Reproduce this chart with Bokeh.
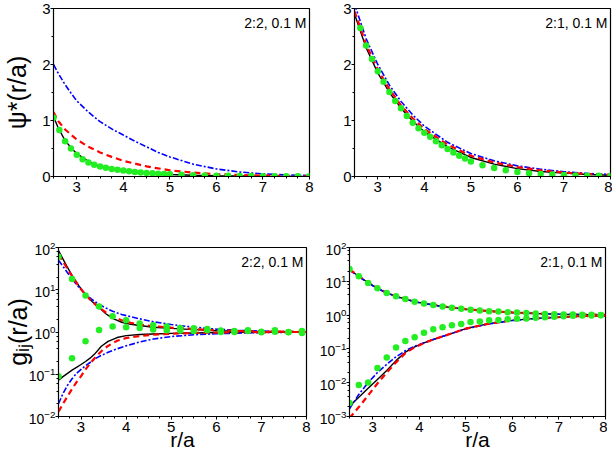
from bokeh.plotting import figure
from bokeh.models import Range1d, SingleIntervalTicker, LogTicker, Label
from bokeh.layouts import column, row
from bokeh.embed import file_html
from bokeh.resources import INLINE

FONT = "Liberation Sans"

# ---------------- data: top-left, psi*(r/a), 2:2 0.1 M ----------------
tl_x_black = [2.5, 2.6, 2.75, 2.9, 3.0, 3.25, 3.5, 3.75, 4.0, 4.5, 5.0, 5.5, 6.0, 6.5, 7.0, 7.5, 8.0]
tl_y_black = [1.07, 0.87, 0.64, 0.49, 0.41, 0.27, 0.18, 0.13, 0.1, 0.06, 0.037, 0.023, 0.014, 0.009, 0.005, 0.003, 0.002]
tl_x_red = [2.5, 2.6, 2.75, 2.9, 3.0, 3.25, 3.5, 3.75, 4.0, 4.5, 5.0, 5.5, 6.0, 6.5, 7.0, 7.5, 8.0]
tl_y_red = [1.15, 0.99, 0.84, 0.73, 0.66, 0.53, 0.43, 0.35, 0.28, 0.18, 0.11, 0.07, 0.042, 0.026, 0.016, 0.01, 0.006]
tl_x_blue = [2.5, 2.625, 2.75, 2.875, 3.0, 3.25, 3.5, 3.75, 4.0, 4.25, 4.5, 4.75, 5.0, 5.5, 6.0, 6.5, 7.0, 7.5, 8.0]
tl_y_blue = [2.0, 1.81, 1.64, 1.49, 1.35, 1.15, 0.98, 0.85, 0.74, 0.63, 0.53, 0.43, 0.35, 0.22, 0.135, 0.08, 0.047, 0.028, 0.017]
tl_x_green = [2.5, 2.625, 2.75, 2.875, 3.0, 3.125, 3.25, 3.375, 3.5, 3.625, 3.75, 3.875, 4.0,
              4.125, 4.25, 4.375, 4.5, 4.625, 4.75, 4.875, 5.0, 5.25, 5.5, 5.75, 6.0, 6.25,
              6.5, 6.75, 7.0, 7.25, 7.5, 7.75, 8.0]
tl_y_green = [1.05, 0.83, 0.63, 0.5, 0.39, 0.31, 0.25, 0.21, 0.18, 0.155, 0.135, 0.12, 0.105,
              0.093, 0.082, 0.072, 0.063, 0.056, 0.05, 0.044, 0.039, 0.031, 0.024, 0.019, 0.015,
              0.012, 0.01, 0.008, 0.006, 0.005, 0.004, 0.003, 0.003]

# ---------------- data: top-right, psi*(r/a), 2:1 0.1 M ----------------
tr_x_lines = [2.5, 2.75, 3.0, 3.25, 3.5, 3.75, 4.0, 4.5, 5.0, 5.5, 6.0, 6.5, 7.0, 7.5, 8.0]
tr_y_black = [2.9, 2.3, 1.85, 1.5, 1.22, 0.99, 0.8, 0.53, 0.34, 0.22, 0.14, 0.09, 0.06, 0.035, 0.022]
tr_y_red = [2.95, 2.36, 1.91, 1.56, 1.27, 1.04, 0.85, 0.57, 0.37, 0.25, 0.17, 0.11, 0.07, 0.045, 0.03]
tr_y_blue = [3.08, 2.46, 2.0, 1.63, 1.34, 1.1, 0.9, 0.61, 0.41, 0.28, 0.19, 0.13, 0.085, 0.055, 0.037]
tr_x_green = [2.625, 2.75, 2.875, 3.0, 3.125, 3.25, 3.375, 3.5, 3.625, 3.75, 3.875, 4.0,
              4.125, 4.25, 4.375, 4.5, 4.625, 4.75, 4.875, 5.0, 5.25, 5.5, 5.75, 6.0, 6.25,
              6.5, 6.75, 7.0, 7.25, 7.5, 7.75, 8.0]
tr_y_green = [2.65, 2.34, 2.1, 1.88, 1.69, 1.51, 1.35, 1.22, 1.08, 0.96, 0.86, 0.78, 0.71,
              0.63, 0.56, 0.49, 0.43, 0.37, 0.32, 0.27, 0.2, 0.15, 0.11, 0.08, 0.06, 0.045,
              0.035, 0.027, 0.02, 0.015, 0.012, 0.01]

# ---------------- data: bottom-left, g_ij(r/a), 2:2 0.1 M ----------------
bl_x_up = [2.5, 2.65, 2.8, 2.95, 3.1, 3.25, 3.4, 3.55, 3.7, 3.9, 4.1, 4.3, 4.6, 5.0, 5.5, 6.0, 6.5, 7.0, 7.5, 8.0]
bl_black_up = [85, 42, 22, 12.5, 7.5, 5.2, 3.8, 2.7, 2.1, 1.7, 1.52, 1.42, 1.3, 1.22, 1.14, 1.08, 1.04, 1.02, 1.01, 1.0]
bl_red_up = [68, 38, 21, 12, 7.6, 5.2, 3.8, 2.9, 2.3, 1.9, 1.65, 1.5, 1.38, 1.27, 1.17, 1.1, 1.06, 1.03, 1.02, 1.01]
bl_blue_up = [50, 30, 18, 11.5, 7.8, 5.8, 4.5, 3.7, 3.1, 2.6, 2.3, 2.05, 1.75, 1.5, 1.3, 1.17, 1.09, 1.05, 1.02, 1.01]
bl_x_low = [2.5, 2.6, 2.7, 2.8, 2.9, 3.0, 3.1, 3.2, 3.3, 3.45, 3.6, 3.8, 4.0, 4.3, 4.6, 5.0, 5.5, 6.0, 6.5, 7.0, 7.5, 8.0]
bl_black_low = [0.072, 0.088, 0.105, 0.125, 0.145, 0.17, 0.2, 0.24, 0.3, 0.46, 0.6, 0.74, 0.82, 0.87, 0.9, 0.93, 0.95, 0.97, 0.98, 0.99, 0.995, 1.0]
bl_red_low = [0.013, 0.02, 0.03, 0.045, 0.065, 0.09, 0.13, 0.18, 0.24, 0.35, 0.47, 0.62, 0.72, 0.8, 0.86, 0.91, 0.95, 0.97, 0.985, 0.99, 1.0, 1.0]
bl_blue_low = [0.02, 0.035, 0.055, 0.078, 0.105, 0.13, 0.16, 0.19, 0.23, 0.28, 0.33, 0.4, 0.47, 0.58, 0.68, 0.78, 0.86, 0.91, 0.94, 0.97, 0.98, 0.99]
bl_x_green = [2.5, 2.8, 3.1, 3.4, 3.7, 4.0, 4.3, 4.6, 4.9, 5.2, 5.5, 5.8, 6.1, 6.4, 6.7, 7.0, 7.3, 7.6, 7.9]
bl_green_up = [60, 18, 7.3, 4.0, 2.35, 1.9, 1.6, 1.45, 1.35, 1.25, 1.22, 1.18, 1.08, 1.05, 1.1, 1.02, 1.1, 1.0, 1.05]
bl_green_low = [0.09, 0.24, 0.6, 1.12, 1.35, 1.3, 1.25, 1.15, 1.1, 1.08, 1.05, 1.1, 1.0, 1.0, 1.05, 0.98, 1.02, 0.98, 0.95]

# ---------------- data: bottom-right, g_ij(r/a), 2:1 0.1 M ----------------
br_x_up = [2.5, 2.75, 3.0, 3.25, 3.5, 3.75, 4.0, 4.5, 5.0, 5.5, 6.0, 6.5, 7.0, 7.5, 8.0]
br_black_up = [22, 12.5, 7.5, 4.9, 3.6, 2.85, 2.35, 1.8, 1.5, 1.31, 1.2, 1.12, 1.07, 1.04, 1.02]
br_red_up = [22.5, 12.8, 7.6, 5.0, 3.65, 2.88, 2.37, 1.81, 1.5, 1.31, 1.2, 1.12, 1.07, 1.04, 1.02]
br_blue_up = [21.5, 12.3, 7.4, 4.85, 3.55, 2.82, 2.32, 1.78, 1.48, 1.3, 1.18, 1.11, 1.06, 1.03, 1.02]
br_x_low = [2.5, 2.7, 2.9, 3.1, 3.3, 3.5, 3.7, 3.9, 4.1, 4.3, 4.6, 5.0, 5.5, 6.0, 6.5, 7.0, 7.5, 8.0]
br_black_low = [0.002, 0.0037, 0.0068, 0.0125, 0.023, 0.045, 0.08, 0.115, 0.15, 0.19, 0.26, 0.4, 0.56, 0.7, 0.8, 0.87, 0.93, 0.96]
br_red_low = [0.0009, 0.0019, 0.0042, 0.0095, 0.02, 0.04, 0.075, 0.112, 0.148, 0.19, 0.26, 0.4, 0.56, 0.7, 0.8, 0.87, 0.93, 0.96]
br_blue_low = [0.0017, 0.0045, 0.01, 0.02, 0.035, 0.058, 0.088, 0.12, 0.152, 0.19, 0.26, 0.39, 0.55, 0.69, 0.79, 0.87, 0.93, 0.96]
br_x_green = [2.5, 2.7, 2.9, 3.1, 3.3, 3.5, 3.7, 3.9, 4.1, 4.3, 4.5, 4.7, 4.9, 5.1, 5.3, 5.5,
              5.7, 5.9, 6.1, 6.3, 6.5, 6.7, 6.9, 7.1, 7.3, 7.5, 7.7, 7.9]
br_green_up = [23, 14, 8.9, 6.2, 4.5, 3.6, 3.0, 2.5, 2.2, 2.0, 1.8, 1.64, 1.53, 1.43, 1.37, 1.31,
               1.27, 1.22, 1.19, 1.15, 1.12, 1.08, 1.06, 1.05, 1.04, 1.03, 1.02, 1.01]
br_green_low = [0.0025, 0.0085, 0.0102, 0.027, 0.056, 0.11, 0.17, 0.22, 0.3, 0.38, 0.44, 0.5,
                0.55, 0.62, 0.65, 0.7, 0.72, 0.75, 0.78, 0.8, 0.83, 0.87, 0.9, 0.93, 0.95, 0.97,
                0.98, 0.99]

TAG_22 = "2:2, 0.1 M"
TAG_21 = "2:1, 0.1 M"

BLACK = dict(line_color="black", line_width=1.4)
RED = dict(line_color="#FF0000", line_width=2.2, line_dash="6 4")
BLUE = dict(line_color="#0000FF", line_width=1.6, line_dash="6 2 2 2")
GREEN = dict(size=6.5, fill_color="#22EE22", line_color=None)


def make_panel(w, h, bl, br, bt, bb, ylog, ylo, yhi, ylabel, ylabel_standoff, xlabel, tag):
    p = figure(width=w, height=h, x_range=Range1d(2.5, 8), y_range=Range1d(ylo, yhi),
               y_axis_type="log" if ylog else "linear", output_backend="svg",
               toolbar_location=None, min_border_left=bl, min_border_right=br,
               min_border_top=bt, min_border_bottom=bb)
    p.grid.visible = False
    p.outline_line_color = "black"
    p.outline_line_width = 1.2
    xt = SingleIntervalTicker(interval=1, num_minor_ticks=4)
    yt = LogTicker() if ylog else SingleIntervalTicker(interval=1, num_minor_ticks=2)
    xa = p.below[0]
    ya = p.left[0]
    xa.ticker = xt
    ya.ticker = yt
    for ax in (xa, ya):
        ax.major_tick_out = 3
        ax.major_tick_in = 0
        ax.minor_tick_out = 2
        ax.minor_tick_in = 0
        ax.major_label_text_font = FONT
        ax.major_label_text_color = "black"
        ax.axis_line_color = "black"
        ax.major_tick_line_color = "black"
        ax.minor_tick_line_color = "black"
        ax.axis_label_text_font = FONT
        ax.axis_label_text_font_style = "normal"
        ax.axis_label_text_color = "black"
    xa.major_label_text_font_size = "15px"
    xa.major_label_standoff = 2
    ya.major_label_text_font_size = "14px" if ylog else "15px"
    ya.major_label_standoff = 0
    if ylabel:
        ya.axis_label = ylabel
        ya.axis_label_text_font_size = "25px"
        ya.axis_label_standoff = ylabel_standoff
    if xlabel:
        xa.axis_label = xlabel
        xa.axis_label_text_font_size = "21px"
        xa.axis_label_standoff = -7
    p.add_layout(Label(x=8, y=yhi, x_offset=-3, y_offset=-6, text=tag, text_align="right",
                       text_baseline="top", text_font=FONT, text_font_size="14px",
                       text_color="black"))
    return p


# top-left
p1 = make_panel(314, 200, 53, 5, 8, 24, False, 0, 3, "ψ*(r/a)", 8, None, TAG_22)
p1.line(tl_x_black, tl_y_black, **BLACK)
p1.line(tl_x_blue, tl_y_blue, **BLUE)
p1.line(tl_x_red, tl_y_red, **RED)
p1.scatter(tl_x_green, tl_y_green, **GREEN)

# top-right
p2 = make_panel(298, 200, 40, 2, 8, 24, False, 0, 3, None, 0, None, TAG_21)
p2.line(tr_x_lines, tr_y_black, **BLACK)
p2.line(tr_x_lines, tr_y_blue, **BLUE)
p2.line(tr_x_lines, tr_y_red, **RED)
p2.scatter(tr_x_green, tr_y_green, **GREEN)

# bottom-left
p3 = make_panel(314, 254, 49, 8, 47, 38, True, 1e-2, 1e2, "gᵢⱼ(r/a)", -6, "r/a", TAG_22)
p3.line(bl_x_up, bl_black_up, **BLACK)
p3.line(bl_x_low, bl_black_low, **BLACK)
p3.line(bl_x_up, bl_blue_up, **BLUE)
p3.line(bl_x_low, bl_blue_low, **BLUE)
p3.line(bl_x_up, bl_red_up, **RED)
p3.line(bl_x_low, bl_red_low, **RED)
p3.scatter(bl_x_green, bl_green_up, **GREEN)
p3.scatter(bl_x_green, bl_green_low, **GREEN)

# bottom-right
p4 = make_panel(293, 254, 35, 2, 47, 38, True, 1e-3, 1e2, None, 0, "r/a", TAG_21)
p4.line(br_x_up, br_black_up, **BLACK)
p4.line(br_x_low, br_black_low, **BLACK)
p4.line(br_x_up, br_blue_up, **BLUE)
p4.line(br_x_low, br_blue_low, **BLUE)
p4.line(br_x_up, br_red_up, **RED)
p4.line(br_x_low, br_red_low, **RED)
p4.scatter(br_x_green, br_green_up, **GREEN)
p4.scatter(br_x_green, br_green_low, **GREEN)

layout = column(row(p1, p2), row(p3, p4))

open("out.html", "w").write(file_html(layout, INLINE))
